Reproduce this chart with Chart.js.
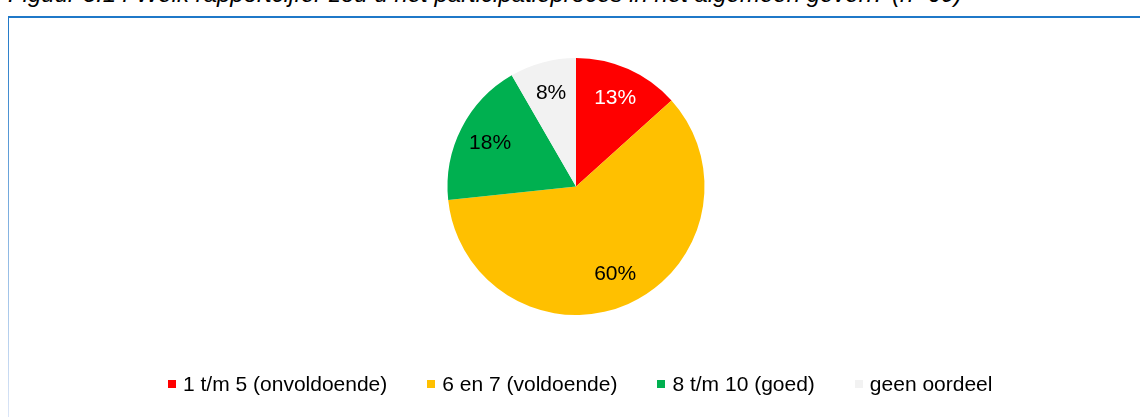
<!DOCTYPE html>
<html>
<head>
<meta charset="utf-8">
<script src="https://cdn.jsdelivr.net/npm/chart.js"></script>
<style>
  html, body { margin: 0; padding: 0; background: #fff; }
  body { width: 1140px; height: 417px; position: relative; overflow: hidden; font-family: "Liberation Sans", Arial, sans-serif; }
  #title { position: absolute; left: 8px; top: -20px; font-size: 24px; font-style: italic; color: #000; white-space: nowrap; }
  #frameTop { position: absolute; left: 8px; top: 16px; width: 1132px; height: 2px; background: #1f78c8; }
  #frameLeft { position: absolute; left: 8px; top: 16px; width: 1px; height: 401px; background: linear-gradient(#1f78c8, #dce6f7); }
  #wrap { position: absolute; left: 0; top: 0; width: 1140px; height: 417px; }
  #legend { position: absolute; left: 168px; top: 372px; display: flex; align-items: center; font-size: 21px; color: #000; white-space: nowrap; }
  #legend .item { display: flex; align-items: center; margin-right: 40px; }
  #legend .box { width: 8px; height: 8px; margin-right: 7px; }
</style>
</head>
<body>
<div id="title">Figuur 3.14 Welk rapportcijfer zou u het participatieproces in het algemeen geven? (n=60)</div>
<div id="frameTop"></div>
<div id="frameLeft"></div>
<div id="wrap"><canvas id="pie"></canvas></div>
<div id="legend"></div>
<script>
// categorieën en aantallen (n=60)
const categories = ['1 t/m 5 (onvoldoende)', '6 en 7 (voldoende)', '8 t/m 10 (goed)', 'geen oordeel'];
const counts = [8, 36, 11, 5];
const colors = ['#FF0000', '#FFC000', '#00B050', '#F2F2F2'];
const labelColors = ['#FFFFFF', '#000000', '#000000', '#000000'];

(function () {
    'use strict';

    const total = counts.reduce((a, b) => a + b, 0);

    // percentage labels in de taartpunten
    const pctLabels = {
        id: 'pctLabels',
        afterDatasetsDraw(chart) {
            const ctx = chart.ctx;
            const meta = chart.getDatasetMeta(0);
            ctx.save();
            ctx.font = '21px "Liberation Sans", Arial, sans-serif';
            ctx.textAlign = 'center';
            ctx.textBaseline = 'middle';
            meta.data.forEach((arc, i) => {
                const p = arc.getProps(['x', 'y', 'startAngle', 'endAngle', 'outerRadius'], true);
                const mid = (p.startAngle + p.endAngle) / 2;
                const r = p.outerRadius * 0.75;
                ctx.fillStyle = labelColors[i];
                ctx.fillText(Math.round(counts[i] / total * 100) + '%', p.x + Math.cos(mid) * r, p.y + Math.sin(mid) * r);
            });
            ctx.restore();
        }
    };

    new Chart(document.getElementById('pie'), {
        type: 'pie',
        data: {
            labels: categories,
            datasets: [{
                data: counts,
                backgroundColor: colors,
                borderWidth: 0
            }]
        },
        options: {
            responsive: true,
            maintainAspectRatio: false,
            animation: false,
            layout: { padding: { top: 58, bottom: 102, left: 12, right: 0 } },
            plugins: {
                legend: { display: false },
                tooltip: { enabled: false }
            }
        },
        plugins: [pctLabels]
    });

    // legenda
    const legend = document.getElementById('legend');
    categories.forEach((c, i) => {
        const item = document.createElement('div');
        item.className = 'item';
        const box = document.createElement('span');
        box.className = 'box';
        box.style.background = colors[i];
        const txt = document.createElement('span');
        txt.textContent = c;
        item.appendChild(box);
        item.appendChild(txt);
        legend.appendChild(item);
    });
})();
</script>
</body>
</html>
